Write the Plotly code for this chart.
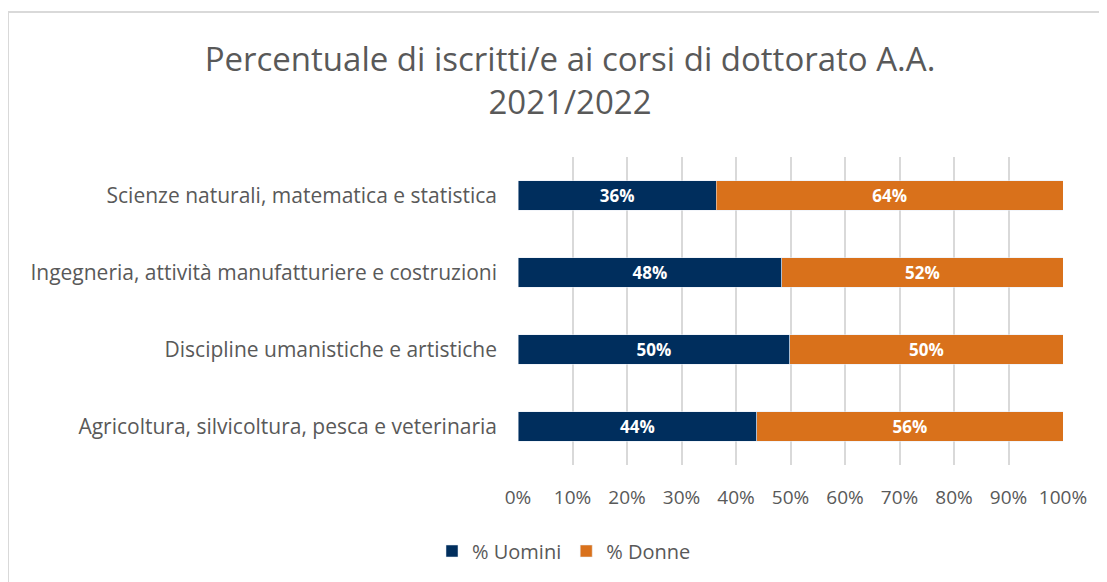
import plotly.graph_objects as go

categories = [
    "Scienze naturali, matematica e statistica",
    "Ingegneria, attività manufatturiere e costruzioni",
    "Discipline umanistiche e artistiche",
    "Agricoltura, silvicoltura, pesca e veterinaria",
]
uomini = [36.4, 48.4, 49.9, 43.8]
donne = [63.6, 51.6, 50.1, 56.2]
uomini_labels = ["36%", "48%", "50%", "44%"]
donne_labels = ["64%", "52%", "50%", "56%"]
x_ticks = [0, 10, 20, 30, 40, 50, 60, 70, 80, 90, 100]
x_tick_labels = ["0%", "10%", "20%", "30%", "40%", "50%", "60%", "70%", "80%", "90%", "100%"]

FONT = "Open Sans"
GREY = "#595959"
OFF = 8  # page body margin

fig = go.Figure()
fig.add_trace(go.Bar(
    y=categories, x=uomini, orientation="h", name="% Uomini",
    marker=dict(color="#002E5D"),
    text=uomini_labels, textposition="inside", insidetextanchor="middle",
    textfont=dict(color="white", size=19, family=FONT, weight="bold"),
    hoverinfo="skip",
))
fig.add_trace(go.Bar(
    y=categories, x=donne, orientation="h", name="% Donne",
    marker=dict(color="#D9711B"),
    text=donne_labels, textposition="inside", insidetextanchor="middle",
    textfont=dict(color="white", size=19, family=FONT, weight="bold"),
    hoverinfo="skip",
))

W, H = 1107, 582
L, R, T, B = 518 - OFF, W - (1063 - OFF), 157 - OFF, H - (465 - OFF)
pw, ph = W - L - R, H - T - B

def px_x(p):
    return (p - OFF - L) / pw

def px_y(p):
    return (H - B - (p - OFF)) / ph

fig.update_layout(
    width=W, height=H,
    barmode="stack", bargap=0.62,
    margin=dict(l=L, r=R, t=T, b=B),
    paper_bgcolor="white", plot_bgcolor="white",
    font=dict(family=FONT, color=GREY),
    title=dict(
        text="Percentuale di iscritti/e ai corsi di dottorato A.A.<br>2021/2022",
        x=(570 - OFF) / W, xanchor="center", xref="container",
        y=1 - 63 / H, yanchor="top", yref="container",
        font=dict(size=33, family=FONT, color=GREY),
    ),
    xaxis=dict(
        range=[0, 100], tickvals=x_ticks, ticktext=x_tick_labels,
        showgrid=True, gridcolor="#d9d9d9", gridwidth=1.5,
        zeroline=False, showline=False,
        tickfont=dict(size=19, family=FONT, color=GREY),
        ticks="", ticklabelstandoff=19,
    ),
    yaxis=dict(
        autorange="reversed", showgrid=False, zeroline=False, showline=False,
        tickfont=dict(size=21, family=FONT, color=GREY),
        ticks="", ticklabelstandoff=20,
    ),
    legend=dict(
        orientation="h", xref="container", yref="container",
        x=(564 - OFF) / W, xanchor="center", y=1 - (551 - OFF) / H, yanchor="middle",
        font=dict(size=20, family=FONT, color=GREY),
        itemwidth=30, traceorder="normal",
    ),
    showlegend=True,
    shapes=[
        dict(type="rect", xref="paper", yref="paper",
             x0=px_x(8), x1=px_x(W + 30), y0=px_y(H + 30), y1=px_y(12),
             line=dict(color="#d9d9d9", width=2), fillcolor="rgba(0,0,0,0)", layer="below"),
    ],
)

fig.write_html("out.html")
